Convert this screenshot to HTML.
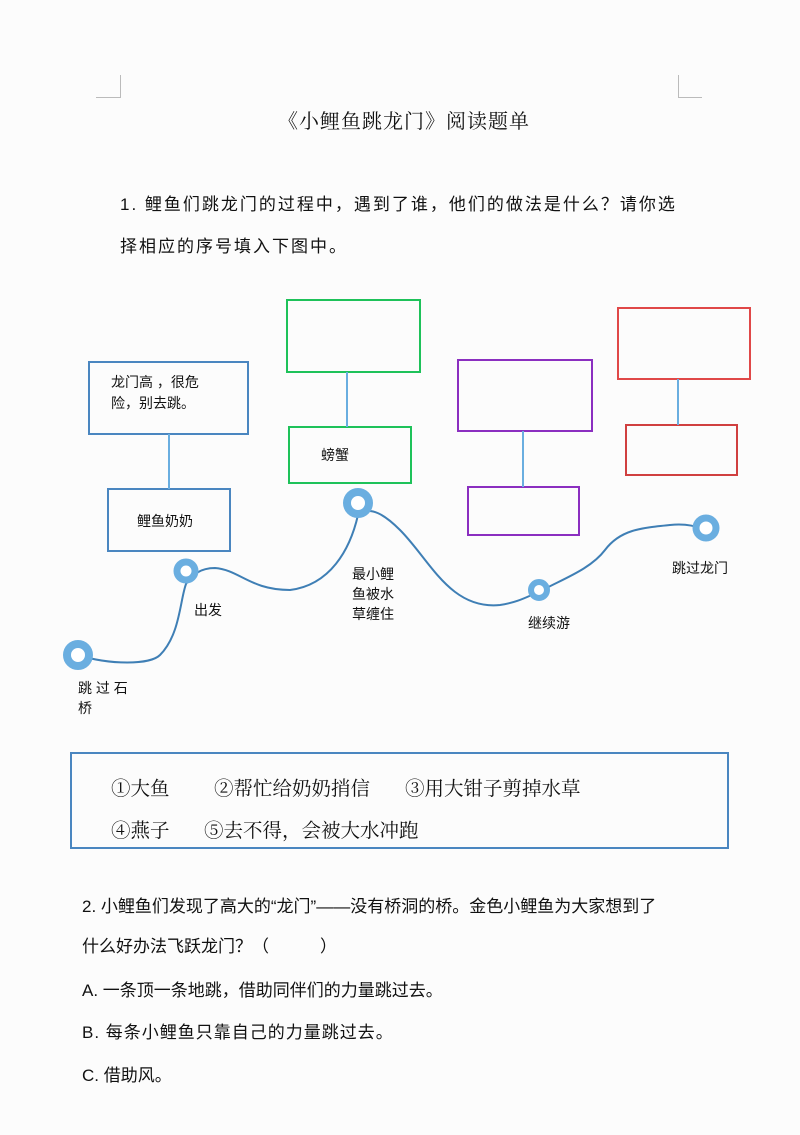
<!DOCTYPE html>
<html><head><meta charset="utf-8"><style>
html,body{margin:0;padding:0;background:#fcfcfc;}
body{width:800px;height:1135px;position:relative;overflow:hidden;font-family:"Liberation Sans","Noto Sans CJK SC",sans-serif;color:#111;}
.t{position:absolute;white-space:nowrap;}
.s{font-family:"Liberation Serif","Noto Serif CJK SC",serif;}
</style></head><body>
<svg width="800" height="1135" style="position:absolute;left:0;top:0">
<g stroke="#bbb" stroke-width="1" fill="none">
<path d="M96 97.5H120.5V75"/><path d="M702 97.5H678.5V75"/>
</g>
<g fill="none" stroke-width="2">
<rect x="89" y="362" width="159" height="72" stroke="#4a86c0"/>
<rect x="108" y="489" width="122" height="62" stroke="#4a86c0"/>
<rect x="287" y="300" width="133" height="72" stroke="#1ec25a"/>
<rect x="289" y="427" width="122" height="56" stroke="#1ec25a"/>
<rect x="458" y="360" width="134" height="71" stroke="#8b2fc0"/>
<rect x="468" y="487" width="111" height="48" stroke="#8b2fc0"/>
<rect x="618" y="308" width="132" height="71" stroke="#e04848"/>
<rect x="626" y="425" width="111" height="50" stroke="#d04040"/>
</g>
<g stroke="#6aaee0" stroke-width="2">
<line x1="169" y1="434" x2="169" y2="489"/>
<line x1="347" y1="372" x2="347" y2="427"/>
<line x1="523" y1="431" x2="523" y2="487"/>
<line x1="678" y1="379" x2="678" y2="425"/>
</g>
<path d="M78 655 C110 665 150 665 160 655 C180 635 180 600 186 584 C192 575 200 568 215 568 C240 570 250 590 290 590 C330 585 350 550 358 515 C370 505 385 515 400 530 C430 560 450 610 500 605 C520 602 530 595 539 592 C560 580 590 570 605 550 C620 530 640 528 670 525 C690 523 700 528 706 530" fill="none" stroke="#3f7fb5" stroke-width="2"/>
<g fill="#fff" stroke="#6aaee0">
<circle cx="78" cy="655" r="11" stroke-width="8"/>
<circle cx="186" cy="571" r="9" stroke-width="7"/>
<circle cx="358" cy="503" r="11" stroke-width="8"/>
<circle cx="539" cy="590" r="8" stroke-width="6"/>
<circle cx="706" cy="528" r="10" stroke-width="7"/>
</g>
<rect x="71" y="753" width="657" height="95" fill="none" stroke="#4a86c0" stroke-width="2"/>
</svg>
<div class="t s" style="left:278px;top:105px;font-size:20px;letter-spacing:1px;">《小鲤鱼跳龙门》阅读题单</div>
<div class="t" style="left:120px;top:190px;font-size:17px;letter-spacing:2px;">1. 鲤鱼们跳龙门的过程中，遇到了谁，他们的做法是什么？请你选</div>
<div class="t" style="left:120px;top:232px;font-size:17px;letter-spacing:2px;">择相应的序号填入下图中。</div>
<div class="t" style="left:111px;top:372px;font-size:14px;line-height:21px;">龙门高 ，很危<br>险，别去跳。</div>
<div class="t" style="left:137px;top:511px;font-size:14px;">鲤鱼奶奶</div>
<div class="t" style="left:321px;top:445px;font-size:14px;">螃蟹</div>
<div class="t" style="left:194px;top:600px;font-size:14px;">出发</div>
<div class="t" style="left:352px;top:564px;font-size:14px;line-height:20px;">最小鲤<br>鱼被水<br>草缠住</div>
<div class="t" style="left:528px;top:613px;font-size:14px;">继续游</div>
<div class="t" style="left:672px;top:558px;font-size:14px;">跳过龙门</div>
<div class="t" style="left:78px;top:678px;font-size:14px;line-height:20px;">跳 过 石<br>桥</div>
<div class="t s" style="left:111px;top:773px;font-size:19.5px;">①大鱼</div>
<div class="t s" style="left:214px;top:773px;font-size:19.5px;">②帮忙给奶奶捎信</div>
<div class="t s" style="left:405px;top:773px;font-size:19.5px;">③用大钳子剪掉水草</div>
<div class="t s" style="left:111px;top:815px;font-size:19.5px;">④燕子</div>
<div class="t s" style="left:204px;top:815px;font-size:19.5px;">⑤去不得，会被大水冲跑</div>
<div class="t" style="left:82px;top:892px;font-size:17px;">2. 小鲤鱼们发现了高大的“龙门”——没有桥洞的桥。金色小鲤鱼为大家想到了</div>
<div class="t" style="left:82px;top:932px;font-size:17px;">什么好办法飞跃龙门？（　　　）</div>
<div class="t" style="left:82px;top:976px;font-size:17px;">A. 一条顶一条地跳，借助同伴们的力量跳过去。</div>
<div class="t" style="left:82px;top:1018px;font-size:17px;letter-spacing:1px;">B. 每条小鲤鱼只靠自己的力量跳过去。</div>
<div class="t" style="left:82px;top:1061px;font-size:17px;">C. 借助风。</div>
</body></html>
